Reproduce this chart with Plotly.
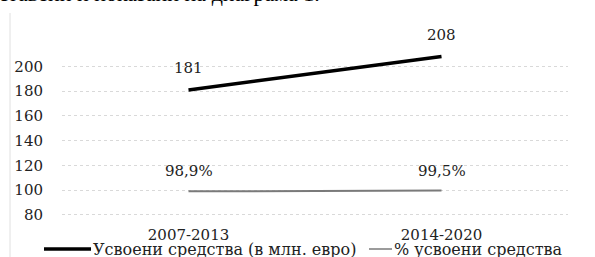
import plotly.graph_objects as go

categories = ["2007-2013", "2014-2020"]
funds = [181, 208]
funds_labels = ["181", "208"]
pct = [98.9, 99.5]
pct_labels = ["98,9%", "99,5%"]
y_ticks = [80, 100, 120, 140, 160, 180, 200]
series_names = ["Усвоени средства (в млн. евро)", "% усвоени средства"]

FONT = "DejaVu Serif"
W, H = 595, 257
L, R, T, B = 62, 27, 20, 35
pw, ph = W - L - R, H - T - B

def px(x):
    return (x - L) / pw

def py(y):
    return (H - B - y) / ph

fig = go.Figure()
fig.add_trace(go.Scatter(
    x=categories, y=funds, mode="lines", name=series_names[0],
    line=dict(color="#000000", width=3.5), showlegend=False,
))
fig.add_trace(go.Scatter(
    x=categories, y=pct, mode="lines", name=series_names[1],
    line=dict(color="#7a7a7a", width=2), showlegend=False,
))
for xs, ys, labs, shift in [(categories, funds, funds_labels, 22), (categories, pct, pct_labels, 20)]:
    for xv, yv, lab in zip(xs, ys, labs):
        fig.add_annotation(x=xv, y=yv, text=lab, showarrow=False, yshift=shift,
                           font=dict(family=FONT, size=15, color="#222"))

fig.update_layout(
    width=W, height=H,
    margin=dict(l=L, r=R, t=T, b=B, autoexpand=False),
    paper_bgcolor="white", plot_bgcolor="white",
    font=dict(family=FONT, size=15, color="#222"),
    showlegend=False,
    xaxis=dict(type="category", range=[-0.5, 1.5], showgrid=False, zeroline=False,
               showline=False, ticks="", automargin=False, ticklabelstandoff=2,
               tickfont=dict(family=FONT, size=15, color="#222")),
    yaxis=dict(range=[74.1, 237.6], tickvals=y_ticks, showgrid=True,
               gridcolor="#d9d9d9", griddash="dot", gridwidth=1, zeroline=False,
               showline=False, ticks="", ticklabelstandoff=18, automargin=False,
               tickfont=dict(family=FONT, size=15, color="#222")),
)

# manual legend (line samples + labels)
legend_items = [
    (44, 91, "#000000", 3.5, 92),
    (369, 392, "#7a7a7a", 1.5, 393),
]
for (x0, x1, col, w, tx), name in zip(legend_items, series_names):
    fig.add_shape(type="line", xref="paper", yref="paper", x0=px(x0), x1=px(x1),
                  y0=py(249), y1=py(249), line=dict(color=col, width=w))
    fig.add_annotation(xref="paper", yref="paper", x=px(tx), y=py(249), xanchor="left",
                       yanchor="middle", text=name, showarrow=False, borderpad=0,
                       font=dict(family=FONT, size=16, color="#222"))

fig.add_shape(type="line", xref="paper", yref="paper", x0=px(10), x1=px(10),
              y0=py(13), y1=py(257), line=dict(color="#e0e0e0", width=1))
fig.add_annotation(xref="paper", yref="paper", x=px(322), y=py(8), xanchor="right",
                   yanchor="bottom", text="представени и показани на диаграма 1.",
                   showarrow=False, font=dict(family="Liberation Serif", size=22, color="#000"))

fig.write_html("out.html", config={"displayModeBar": False},
               post_script="document.body.style.margin='0';document.body.style.overflow='hidden';")
